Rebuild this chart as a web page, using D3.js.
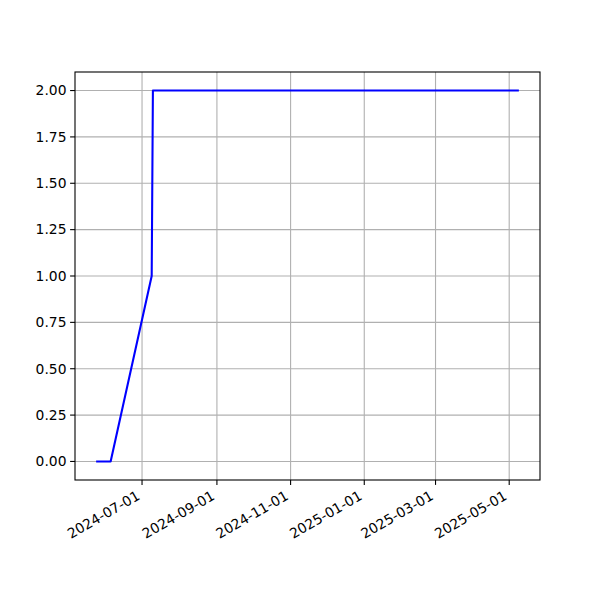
<!DOCTYPE html>
<html><head><meta charset="utf-8">
<script src="https://cdn.jsdelivr.net/npm/d3@7"></script>
<style>body{margin:0;background:#fff}svg{display:block}text{font-family:"DejaVu Sans",sans-serif}</style>
</head><body><svg id="c" width="600" height="600"></svg>
<script>
const dates = ["2024-05-24","2024-06-05","2024-07-09","2024-07-10","2025-05-09"];
const values = [0, 0, 1, 2, 2];
const xTickLabels = ["2024-07-01","2024-09-01","2024-11-01","2025-01-01","2025-03-01","2025-05-01"];
const yTicks = [0,0.25,0.5,0.75,1,1.25,1.5,1.75,2];

const parse = d3.utcParse("%Y-%m-%d");
const data = dates.map((d,i)=>({x:parse(d), y:values[i]}));
const L=75,R=540,T=72,B=480;
const svg = d3.select("#c");
const x0 = d3.min(data,d=>d.x), x1 = d3.max(data,d=>d.x);
const span = x1 - x0;
const x = d3.scaleUtc().domain([new Date(+x0 - span*0.05), new Date(+x1 + span*0.05)]).range([L,R]);
const y = d3.scaleLinear().domain([-0.1, 2.1]).range([B,T]);
const fs = 13.89;
const g = svg.append("g");
// grid
xTickLabels.forEach(t=>{
  const px = x(parse(t));
  g.append("line").attr("x1",px).attr("x2",px).attr("y1",T).attr("y2",B).attr("stroke","#b0b0b0").attr("stroke-width",1.1);
});
yTicks.forEach(t=>{
  const py = y(t);
  g.append("line").attr("x1",L).attr("x2",R).attr("y1",py).attr("y2",py).attr("stroke","#b0b0b0").attr("stroke-width",1.1);
});
// line
svg.append("path").datum(data).attr("fill","none").attr("stroke","#0000ff").attr("stroke-width",2.08)
  .attr("stroke-linejoin","round")
  .attr("d", d3.line().x(d=>x(d.x)).y(d=>y(d.y)));
// frame
svg.append("rect").attr("x",L).attr("y",T).attr("width",R-L).attr("height",B-T).attr("fill","none").attr("stroke","#000").attr("stroke-width",1.1);
// y ticks
yTicks.forEach(t=>{
  const py = y(t);
  svg.append("line").attr("x1",L-4.9).attr("x2",L).attr("y1",py).attr("y2",py).attr("stroke","#000").attr("stroke-width",1.1);
  svg.append("text").attr("x",L-8.5).attr("y",py).attr("dy","0.35em").attr("text-anchor","end")
    .attr("font-size",fs).attr("fill","#000").text(d3.format(".2f")(t));
});
// x ticks
xTickLabels.forEach(t=>{
  const px = x(parse(t));
  svg.append("line").attr("x1",px).attr("x2",px).attr("y1",B).attr("y2",B+4.9).attr("stroke","#000").attr("stroke-width",1.1);
  svg.append("text").attr("transform",`translate(${px-6.5},${B+9.5}) rotate(-30)`)
    .attr("text-anchor","end").attr("dy","0.76em").attr("font-size",fs).attr("fill","#000").text(t);
});
</script></body></html>
